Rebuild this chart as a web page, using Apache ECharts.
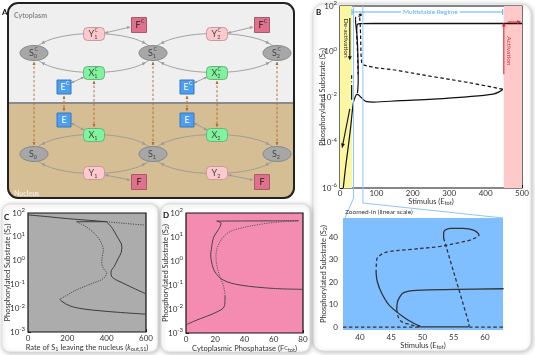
<!DOCTYPE html>
<html><head><meta charset="utf-8">
<script src="https://cdn.jsdelivr.net/npm/echarts@6.0.0/dist/echarts.min.js"></script>
<style>html,body{margin:0;padding:0;background:#fff}#c{width:535px;height:355px}</style>
</head><body><div id="c"></div>
<script>
// ================= DATA =================
// Panel B (log scale, Stimulus E_tot)
const bXTicks = [0, 100, 200, 300, 400, 500];
const bBands = [[0, 33], [450, 500]];
const bZoomRange = [37.3, 62.9];
const bUpperSolid = [[46, 9], [46.4, 13], [48, 15.6], [55, 16.7], [100, 17], [300, 17], [500, 17]];
const bRiseSolid = [[9, 1e-6], [16, 1e-5], [23, 7e-5], [30, 6e-4], [37, 6e-3], [43, 0.011], [46, 0.0135]];
const bLowerSolid = [[46, 0.0135], [50, 0.0125], [55, 0.0107], [60, 0.0089], [73, 0.0063], [92, 0.006], [165, 0.0069], [256, 0.0081], [348, 0.0102], [421, 0.0135], [440, 0.0178], [447, 0.022]];
const bMidDashed = [[447, 0.022], [350, 0.044], [256, 0.078], [160, 0.145], [64, 0.26], [58.5, 0.5], [57.3, 1.5], [56, 10], [54.5, 25], [53.4, 39]];
const bTopLoop = [[53.4, 39], [53.5, 43], [55, 44], [57, 44], [58.5, 43], [59.1, 41]];
const bTopDashed = [[59.1, 41], [55.6, 37.3], [50, 35], [45, 33.5], [43, 31], [42.6, 25]];
const bLeftSolid = [[42.6, 25], [43.5, 15], [44.8, 9.4], [47.5, 3.5], [49.7, 0.3], [50, 0.05], [48, 0.015]];
const bSmallDashed = [[46, 9], [46.5, 3], [47.8, 1.3], [49.7, 0.1]];
const bFoldDashed = [[32, 0.09], [32, 0.045]];
const bFoldSolid = [[32, 0.034], [32, 0.0075]];

// Panel C (k_out,S1)
const cXTicks = [0, 200, 400, 600];
const cTopSolid = [[0, 83], [100, 70], [200, 58], [300, 50], [400, 43]];
const cTopDotted = [[400, 43], [500, 36], [600, 31]];
const cFoldTop = [[247, 43], [400, 43]];
const cEyeSolid = [[400, 43], [430, 22], [451, 11], [470, 6], [477, 4.1], [474, 2.2], [460, 1.3], [440, 0.6], [422, 0.33], [425, 0.22], [445, 0.16], [468, 0.13], [537, 0.069], [600, 0.04]];
const cEyeDotted = [[247, 43], [300, 25], [349, 11], [375, 5], [383, 2.9], [378, 1.5], [375, 0.8], [385, 0.45], [400, 0.3], [380, 0.17], [332, 0.115], [247, 0.059], [200, 0.036], [170, 0.026], [162, 0.0245]];
const cBottomSolid = [[162, 0.0245], [170, 0.02], [213, 0.0125], [281, 0.0093], [366, 0.0078], [450, 0.0068], [600, 0.0056]];

// Panel D (F^C_tot)
const dXTicks = [0, 20, 40, 60, 80];
const dTopSolid = [[21, 46], [40, 46.5], [60, 47], [77, 47.5]];
const dSolidS = [[21, 46], [24, 38], [23, 25], [21, 16], [18.7, 9], [17.3, 3], [16.9, 1.8], [17.5, 0.9], [19.8, 0.35], [25.5, 0.16], [36.9, 0.1], [59.7, 0.072], [80, 0.066]];
const dDotted = [[77, 47.5], [59.7, 40], [48.3, 32], [36.9, 23], [30, 16.6], [25.5, 10], [22.1, 4.6], [20.5, 1.8], [21, 0.68], [23.2, 0.22], [25.5, 0.1], [26.7, 0.038]];
const dBottomSolid = [[0, 0.0022], [5, 0.003], [10, 0.004], [16.4, 0.0056], [22, 0.008], [25.5, 0.011], [26.6, 0.018], [26.7, 0.038]];

// Panel E (zoomed-in, linear)
const eXTicks = [40, 45, 50, 55, 60];
const eYTicks = [0, 10, 20, 30, 40];
const eSolidLeft = [[49.7, 0.3], [47.5, 3.5], [44.8, 9.4], [43.5, 15], [42.8, 20], [42.6, 24]];
const eDashUpper = [[42.6, 24], [42.7, 30], [43.3, 32], [44.3, 33.3], [47.5, 34.3], [52.9, 35.8], [55.6, 37.3], [57.5, 38.5], [58.8, 40], [59.1, 41]];
const eSolidTopLoop = [[59.1, 41], [58.3, 42.9], [56.5, 43.8], [54.5, 43.8], [53.6, 43], [53.4, 41.7], [53.4, 39.5]];
const eDashFall = [[53.4, 39.5], [57.3, 3], [57.5, 1.3]];
const eSolidBottom = [[57.5, 1.3], [57.4, 0.3], [57, 0.1], [49.7, 0.1]];
const eSolidMid = [[45.9, 8], [46, 11], [46.3, 13], [47, 15.3], [49.1, 16.3], [55.6, 16.7], [63, 17]];
const eDashMid = [[45.9, 8], [46.2, 4], [46.8, 2.2], [47.8, 1.3], [48.8, 0.5], [49.7, 0.1]];
const eDashZeroL = [[37.3, 0], [49.7, 0]];
const eDashZeroR = [[57.5, 0], [63, 0]];

// ================= CHART =================
const FF = 'Lato, "Open Sans", sans-serif';
const TXT = '#333';
const chart = echarts.init(document.getElementById('c'));

const grids = [
  {left: 340, top: 6, width: 182, height: 182, show: true, borderColor: '#111', borderWidth: 1.2, backgroundColor: '#fff', z: 1},
  {left: 28, top: 213, width: 118, height: 119, show: true, borderColor: '#111', borderWidth: 1.2, backgroundColor: '#acacac', z: 1},
  {left: 186, top: 213, width: 117, height: 120, show: true, borderColor: '#111', borderWidth: 1.2, backgroundColor: '#f48cb1', z: 1},
  {left: 343, top: 218, width: 160, height: 112, show: true, borderWidth: 0, backgroundColor: '#80bfff', z: 1}
];

function expFmt(skipOdd) {
  return function (v) {
    const e = Math.round(Math.log10(v));
    if (skipOdd && (e % 2 !== 0)) return '';
    return '{b|10}{s|' + e + '}';
  };
}
const expRich = {b: {fontSize: 8, color: TXT, fontFamily: FF, lineHeight: 11}, s: {fontSize: 6, color: TXT, fontFamily: FF, verticalAlign: 'top'}};
const nameRich = {n: {fontSize: 7.5, color: TXT, fontFamily: FF}, sub: {fontSize: 5.5, color: TXT, fontFamily: FF, verticalAlign: 'bottom'}, sup: {fontSize: 5.5, color: TXT, fontFamily: FF, verticalAlign: 'top'}, it: {fontSize: 7.5, color: TXT, fontFamily: FF, fontStyle: 'italic'}};

function xAx(grid, min, max, interval, name, gap, margin) {
  return {
    type: 'value', gridIndex: grid, min: min, max: max, interval: interval,
    axisLine: {show: false},
    axisTick: {show: true, inside: true, length: 3, lineStyle: {color: '#222'}},
    minorTick: {show: true, splitNumber: 2, length: 2, lineStyle: {color: '#222'}},
    axisLabel: {fontSize: 8, color: TXT, fontFamily: FF, margin: margin},
    splitLine: {show: false},
    name: name, nameLocation: 'middle', nameGap: gap, nameMoveOverlap: false, nameTextStyle: {rich: nameRich}
  };
}
function yLog(grid, min, max, split, skipOdd, name, gap) {
  return {
    type: 'log', gridIndex: grid, min: min, max: max, logBase: 10, splitNumber: split,
    axisLine: {show: false},
    axisTick: {show: true, inside: true, length: 3, lineStyle: {color: '#222'}},
    axisLabel: {formatter: expFmt(skipOdd), rich: expRich, margin: 3},
    splitLine: {show: false},
    name: name, nameLocation: 'middle', nameGap: gap, nameMoveOverlap: false, nameRotate: 90, nameTextStyle: {rich: nameRich}
  };
}
const yName = '{n|Phosphorylated Substrate (S}{sub|2}{n|)}';
const xAxes = [
  xAx(0, 0, 500, bXTicks[1] - bXTicks[0], '', 10, 1),
  xAx(1, 0, 600, cXTicks[1] - cXTicks[0], '{n|Rate of S}{sub|1}{n| leaving the nucleus (}{it|k}{sub|out,S1}{n|)}', 12, 2),
  xAx(2, 0, 80, dXTicks[1] - dXTicks[0], '{n|Cytoplasmic Phosphatase (F}{sup|C}{sub|tot}{n|)}', 12, 2),
  {type: 'value', gridIndex: 3, min: 37.3, max: 62.9,
   axisLine: {show: false},
   axisTick: {show: true, inside: true, length: 3, lineStyle: {color: '#222'}, customValues: eXTicks},
   axisLabel: {fontSize: 8, color: TXT, fontFamily: FF, margin: 3, customValues: eXTicks},
   splitLine: {show: false},
   name: '{n|Stimulus (E}{sub|tot}{n|)}', nameLocation: 'middle', nameGap: 12, nameMoveOverlap: false, nameTextStyle: {rich: nameRich}}
];
const yAxes = [
  yLog(0, 1e-6, 1e2, 8, true, yName, 13),
  yLog(1, 1e-3, 1e2, 5, false, yName, 16),
  yLog(2, 1e-3, 1e2, 5, false, yName, 16),
  {type: 'value', gridIndex: 3, min: -1.3, max: 48.4,
   axisLine: {show: false}, axisTick: {show: true, inside: true, length: 3, lineStyle: {color: '#222'}, customValues: eYTicks},
   axisLabel: {fontSize: 8, color: TXT, fontFamily: FF, margin: 5, customValues: eYTicks}, splitLine: {show: false},
   name: yName, nameLocation: 'middle', nameGap: 15, nameMoveOverlap: false, nameRotate: 90, nameTextStyle: {rich: nameRich}}
];

function ln(idx, data, style, color, width, extra) {
  let type = 'solid';
  if (style === 'dash') type = [3.5, 2.5];
  if (style === 'dot') type = [1.2, 1.2];
  return Object.assign({
    type: 'line', xAxisIndex: idx, yAxisIndex: idx, data: data, symbol: 'none', smooth: 0.35,
    silent: true, animation: false, z: 5,
    lineStyle: {color: color || '#111', width: width || 1.2, type: type}
  }, extra || {});
}

const series = [
  ln(0, bUpperSolid, 'solid', '#111', 1.3, {markArea: {silent: true, itemStyle: {color: '#fbf6a2'}, data: [[{xAxis: bBands[0][0], yAxis: 1e-6}, {xAxis: bBands[0][1], yAxis: 1e2}]]}}),
  ln(0, bRiseSolid, 'solid', '#111', 1.2, {markArea: {silent: true, itemStyle: {color: '#ffc9c9'}, data: [[{xAxis: bBands[1][0], yAxis: 1e-6}, {xAxis: bBands[1][1], yAxis: 1e2}]]}}),
  ln(0, bLowerSolid, 'solid', '#111', 1.2),
  ln(0, bMidDashed, 'dash', '#111', 1.2),
  ln(0, bTopLoop, 'solid', '#111', 1.2),
  ln(0, bTopDashed, 'dash', '#111', 1.2),
  ln(0, bLeftSolid, 'solid', '#111', 1.2),
  ln(0, bSmallDashed, 'dash', '#111', 1.2),
  ln(0, bFoldDashed, 'dash', '#111', 1.2),
  ln(0, bFoldSolid, 'solid', '#111', 1.2),

  ln(1, cTopSolid, 'solid', '#3a3a3a', 1),
  ln(1, cTopDotted, 'dot', '#4a4a4a', 1),
  ln(1, cFoldTop, 'solid', '#3a3a3a', 1),
  ln(1, cEyeSolid, 'solid', '#3a3a3a', 1),
  ln(1, cEyeDotted, 'dot', '#4a4a4a', 1),
  ln(1, cBottomSolid, 'solid', '#3a3a3a', 1),

  ln(2, dTopSolid, 'solid', '#444', 1),
  ln(2, dSolidS, 'solid', '#444', 1),
  ln(2, dDotted, 'dot', '#555', 1),
  ln(2, dBottomSolid, 'solid', '#444', 1),

  ln(3, eSolidLeft, 'solid', '#333', 1.3),
  ln(3, eDashUpper, 'dash', '#333', 1.3),
  ln(3, eSolidTopLoop, 'solid', '#333', 1.3),
  ln(3, eDashFall, 'dash', '#333', 1.3),
  ln(3, eSolidBottom, 'solid', '#333', 1.3),
  ln(3, eSolidMid, 'solid', '#333', 1.3),
  ln(3, eDashMid, 'dash', '#333', 1.3),
  ln(3, eDashZeroL, 'dash', '#333', 1.3),
  ln(3, eDashZeroR, 'dash', '#333', 1.3)
];

// ================= DIAGRAM & DECORATION =================
const G = [];
function arrowHead(tx, ty, fx, fy, color, s) {
  s = s || 3.5;
  const a = Math.atan2(ty - fy, tx - fx), w = s * 0.5;
  const bx = tx - s * Math.cos(a), by = ty - s * Math.sin(a);
  G.push({type: 'polygon', z: 30, silent: true, shape: {points: [[tx, ty], [bx + w * Math.sin(a), by - w * Math.cos(a)], [bx - w * Math.sin(a), by + w * Math.cos(a)]]}, style: {fill: color}});
}
function seg(x1, y1, x2, y2, color, w, dash, z) {
  G.push({type: 'line', z: z || 30, silent: true, shape: {x1: x1, y1: y1, x2: x2, y2: y2}, style: {stroke: color, lineWidth: w || 1, lineDash: dash || null}});
}
function dblArrow(x1, y1, x2, y2, color, w, dash, s) {
  seg(x1, y1, x2, y2, color, w, dash);
  arrowHead(x1, y1, x2, y2, color, s);
  arrowHead(x2, y2, x1, y1, color, s);
}
function txt(x, y, text, opt) {
  G.push({type: 'text', z: 48, silent: true, rotation: opt.rot || 0, x: x, y: y,
    style: Object.assign({text: text, x: 0, y: 0, fill: opt.fill || TXT, font: (opt.bold ? 'bold ' : '') + (opt.size || 8) + 'px ' + FF,
      align: opt.align || 'left', verticalAlign: opt.va || 'middle', textAlign: opt.align || 'left', textVerticalAlign: opt.va || 'middle'}, opt.style || {})});
}

// cards
const cardStyle = {fill: '#fff', stroke: '#dcdcdc', lineWidth: 1, shadowBlur: 5, shadowColor: 'rgba(0,0,0,0.25)', shadowOffsetX: 1, shadowOffsetY: 1};
G.push({type: 'rect', z: -10, silent: true, shape: {x: 313, y: 4, width: 218, height: 347, r: 10}, style: cardStyle});
G.push({type: 'rect', z: -10, silent: true, shape: {x: 2, y: 204, width: 156, height: 148, r: 8}, style: cardStyle});
G.push({type: 'rect', z: -10, silent: true, shape: {x: 161, y: 204, width: 149, height: 148, r: 8}, style: cardStyle});
// panel A box
const split = (103 - 3) / 195;
G.push({type: 'rect', z: 10, silent: true, shape: {x: 8, y: 3, width: 286, height: 195, r: 10},
  style: {fill: new echarts.graphic.LinearGradient(0, 0, 0, 1, [{offset: 0, color: '#efefef'}, {offset: split, color: '#efefef'}, {offset: split, color: '#d5bd94'}, {offset: 1, color: '#d5bd94'}]), stroke: '#222', lineWidth: 2}});
seg(9, 103, 293, 103, '#8a8a8a', 2, null, 11);

// orbit ellipses
const orbitColor = '#9a9a9a';
const orbits = [[93.5, 53, 59.5, 19.5], [215, 53, 62, 19.5], [93.5, 154, 59.5, 19.5], [215, 154, 62, 19.5]];
orbits.forEach(function (o) {
  G.push({type: 'ellipse', z: 20, silent: true, shape: {cx: o[0], cy: o[1], rx: o[2], ry: o[3]}, style: {fill: null, stroke: orbitColor, lineWidth: 0.9}});
  const P = function (t) { return [o[0] + o[2] * Math.cos(t), o[1] + o[3] * Math.sin(t)]; };
  [[Math.PI + 0.5, -1], [Math.PI - 0.5, 1], [-0.5, 1], [0.5, -1]].forEach(function (a) {
    const p = P(a[0]), q = P(a[0] - a[1] * 0.12);
    arrowHead(p[0], p[1], q[0], q[1], orbitColor, 3.5);
  });
});

// vertical transport arrows (brown dashed)
const brown = '#b06a2c';
[[34, 62, 145], [94, 81, 127], [153, 62, 145], [217, 81, 127], [277, 62, 145], [64, 96, 111], [187, 96, 111]].forEach(function (v) {
  dblArrow(v[0], v[1], v[0], v[2], brown, 0.9, [2.5, 2], 3);
});
// F <-> Y, E <-> X
[[130, 27, 105, 33], [253, 27, 228, 33], [130, 180, 105, 175], [253, 180, 228, 175],
 [71, 83, 84, 77], [194, 83, 207, 77], [71, 123, 84, 130], [194, 123, 207, 130]].forEach(function (a) {
  dblArrow(a[0], a[1], a[2], a[3], orbitColor, 0.9, null, 3);
});

function nodeLabel(x, y, letter, sub, sup, color) {
  G.push({type: 'text', z: 50, silent: true, x: x, y: y + 0.5, style: {text: '{m|' + letter + '}{s|' + sub + '}', x: 0, y: 0, align: 'center', verticalAlign: 'middle', textAlign: 'center', textVerticalAlign: 'middle',
    rich: {m: {fontSize: 9, fill: color || '#444', fontFamily: FF, lineHeight: 11}, s: {fontSize: 5.5, fill: color || '#444', fontFamily: FF, verticalAlign: 'bottom'}}}});
  if (sup) G.push({type: 'text', z: 50, silent: true, x: x + 1.5, y: y - 3.5, style: {text: sup, x: 0, y: 0, fill: color || '#444', font: '5px ' + FF, align: 'left', verticalAlign: 'middle', textAlign: 'left', textVerticalAlign: 'middle'}});
}
function ellNode(x, y, sub, sup) {
  G.push({type: 'ellipse', z: 42, silent: true, shape: {cx: x, cy: y, rx: 14, ry: 7.5}, style: {fill: '#a7a7a7', stroke: '#7f8a8a', lineWidth: 1}});
  nodeLabel(x - 1, y, 'S', sub, sup);
}
function boxNode(x, y, w, h, r, fill, stroke, letter, sub, sup, color) {
  G.push({type: 'rect', z: 42, silent: true, shape: {x: x - w / 2, y: y - h / 2, width: w, height: h, r: r}, style: {fill: fill, stroke: stroke, lineWidth: 1}});
  if (sub !== '') nodeLabel(x - 1, y, letter, sub, sup);
  else {
    G.push({type: 'text', z: 50, silent: true, x: x - (sup ? 1 : 0), y: y + 0.5, style: {text: letter, x: 0, y: 0, fill: color || '#333', font: '9px ' + FF, align: 'center', verticalAlign: 'middle', textAlign: 'center', textVerticalAlign: 'middle'}});
    if (sup) G.push({type: 'text', z: 50, silent: true, x: x + 2, y: y - 3.5, style: {text: sup, x: 0, y: 0, fill: color || '#333', font: '5px ' + FF, align: 'left', verticalAlign: 'middle', textAlign: 'left', textVerticalAlign: 'middle'}});
  }
}
// cytoplasm
ellNode(34, 53, '0', 'C'); ellNode(153, 53, '1', 'C'); ellNode(277, 53, '2', 'C');
boxNode(94, 34, 21, 13, 4, '#fdc9cc', '#c79a9c', 'Y', '1', 'C');
boxNode(217, 34, 21, 13, 4, '#fdc9cc', '#c79a9c', 'Y', '2', 'C');
boxNode(94, 73, 21, 13, 4, '#80f49c', '#6fb084', 'X', '1', 'C');
boxNode(217, 73, 21, 13, 4, '#80f49c', '#6fb084', 'X', '2', 'C');
boxNode(139, 25, 15, 15, 0, '#e0718d', '#a9596c', 'F', '', 'C', '#222');
boxNode(262, 25, 15, 15, 0, '#e0718d', '#a9596c', 'F', '', 'C', '#222');
boxNode(64, 87, 14, 14, 0, '#4b9ef0', '#3a78b8', 'E', '', 'C', '#fff');
boxNode(187, 87, 14, 14, 0, '#4b9ef0', '#3a78b8', 'E', '', 'C', '#fff');
// nucleus
ellNode(34, 154, '0'); ellNode(153, 154, '1'); ellNode(277, 154, '2');
boxNode(94, 135, 21, 13, 4, '#80f49c', '#6fb084', 'X', '1');
boxNode(217, 135, 21, 13, 4, '#80f49c', '#6fb084', 'X', '2');
boxNode(94, 173, 21, 13, 4, '#fdc9cc', '#c79a9c', 'Y', '1');
boxNode(217, 173, 21, 13, 4, '#fdc9cc', '#c79a9c', 'Y', '2');
boxNode(139, 182, 15, 15, 0, '#e0718d', '#a9596c', 'F', '', null, '#222');
boxNode(262, 182, 15, 15, 0, '#e0718d', '#a9596c', 'F', '', null, '#222');
boxNode(64, 120, 14, 14, 0, '#4b9ef0', '#3a78b8', 'E', '', null, '#fff');
boxNode(187, 120, 14, 14, 0, '#4b9ef0', '#3a78b8', 'E', '', null, '#fff');

txt(14, 16, 'Cytoplasm', {size: 7, bold: true, fill: '#8a8a8a'});
txt(14, 194, 'Nucleus', {size: 7, bold: true, fill: '#f6ecd9'});
// panel letters
txt(2, 12, 'A', {size: 8, bold: true, fill: '#111'});
txt(316, 12, 'B', {size: 8, bold: true, fill: '#111'});
txt(4, 217, 'C', {size: 8, bold: true, fill: '#111'});
txt(163, 215, 'D', {size: 8, bold: true, fill: '#111'});

// B x-axis title (placed under the grid from its layout values)
G.push({type: 'text', z: 48, silent: true, x: grids[0].left + grids[0].width / 2, y: grids[0].top + grids[0].height + 14,
  style: {text: '{n|Stimulus (E}{sub|tot}{n|)}', x: 0, y: 0, align: 'center', verticalAlign: 'middle', textAlign: 'center', textVerticalAlign: 'middle',
  rich: {n: {fontSize: 7.5, fill: TXT, fontFamily: FF}, sub: {fontSize: 5.5, fill: TXT, fontFamily: FF, verticalAlign: 'bottom'}}}});

chart.setOption({
  animation: false,
  backgroundColor: '#fff',
  grid: grids, xAxis: xAxes, yAxis: yAxes, series: series,
  graphic: {elements: G}
});

// annotations tied to panel B axes
const p = function (x, y) { return chart.convertToPixel({gridIndex: 0}, [x, y]); };
const pe = function (x, y) { return chart.convertToPixel({gridIndex: 3}, [x, y]); };
const zl = p(bZoomRange[0], 1e2), zr = p(bZoomRange[1], 1e2);
const bBottom = grids[0].top + grids[0].height;
const eTL = pe(bZoomRange[0], 48.4), eTR = pe(bZoomRange[1], 48.4);
const blue = '#8cc4ff';
G.push({type: 'polyline', z: 6, silent: true, shape: {points: [[zl[0], zl[1]], [zl[0], bBottom + 10], [eTL[0] + 2, eTL[1]]]}, style: {stroke: blue, lineWidth: 1, fill: null}});
G.push({type: 'polyline', z: 6, silent: true, shape: {points: [[zr[0], zr[1]], [zr[0], bBottom + 15], [eTR[0], eTR[1]]]}, style: {stroke: blue, lineWidth: 1, fill: null}});
txt(eTL[0] + 2, eTL[1] - 6, 'Zoomed-in (linear scale)', {size: 6.5, fill: '#333'});
// multistable regime
const m1 = p(33, 1e2), m2 = p(447, 1e2);
const my = 12;
const mblue = '#5aaef5';
seg(m1[0], my, m2[0], my, mblue, 1, null, 35);
seg(m1[0], my - 3, m1[0], my + 3, mblue, 1, null, 35);
seg(m2[0], my - 3, m2[0], my + 3, mblue, 1, null, 35);
G.push({type: 'text', z: 40, silent: true, x: (m1[0] + m2[0]) / 2 + 3, y: my, style: {text: 'Multistable Regime', x: 0, y: 0, fill: mblue, font: '6.5px ' + FF, align: 'center', verticalAlign: 'middle', textAlign: 'center', textVerticalAlign: 'middle', backgroundColor: '#fff', padding: [0, 2]}});
// de-activation
const da = p(27, 30), db = p(27, 0.5);
seg(da[0], da[1], db[0], db[1], '#111', 1.1, null, 35); arrowHead(db[0], db[1] + 2, da[0], da[1], '#111', 4);
txt(da[0] - 3.5, (da[1] + db[1]) / 2, 'De-activation', {size: 6.5, fill: '#222', align: 'center', rot: -Math.PI / 2});
const dc = p(27, 3e-3), dd = p(6, 6e-5);
seg(dc[0], dc[1], dd[0], dd[1], '#111', 1.1, null, 35); arrowHead(dd[0], dd[1], dc[0], dc[1], '#111', 4);
// activation
const aa = p(450, 0.1), ab = p(450, 17);
const red = '#d42e3a';
seg(aa[0], aa[1], ab[0], ab[1] + 1, red, 1.1, null, 35); arrowHead(ab[0], ab[1] - 1, aa[0], aa[1], red, 4);
const ac = p(460, 17), ad = p(495, 17);
seg(ac[0], ac[1] - 1.5, ad[0], ad[1] - 1.5, red, 1.1, null, 35); arrowHead(ad[0] + 1, ad[1] - 1.5, ac[0], ac[1] - 1.5, red, 4);
txt(aa[0] + 5, (aa[1] + ab[1]) / 2 + 2, 'Activation', {size: 6.5, fill: red, align: 'center', rot: -Math.PI / 2});

chart.setOption({graphic: {elements: G}});
</script></body></html>
